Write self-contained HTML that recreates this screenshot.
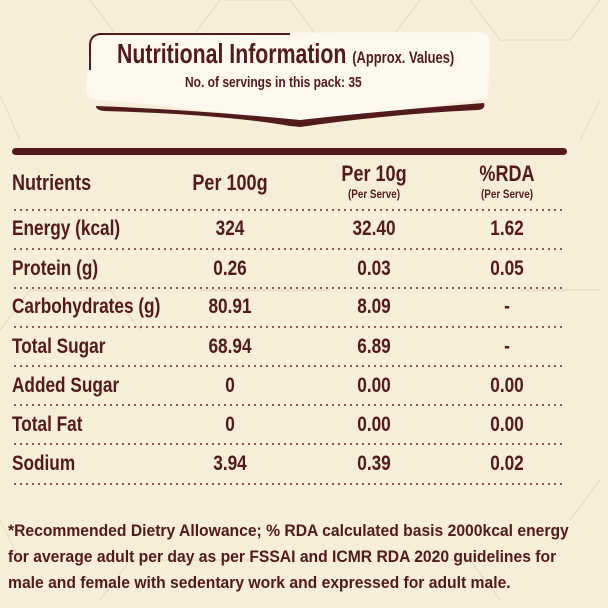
<!DOCTYPE html>
<html><head><meta charset="utf-8"><style>
body{margin:0;width:608px;height:608px;background:#f6eed8;position:relative;overflow:hidden;font-family:"Liberation Sans",sans-serif;color:#521a1a;font-weight:bold}
.t{position:absolute;white-space:nowrap;line-height:1;transform:scaleX(0.82);transform-origin:0 0}
.c{transform:translateX(-50%) scaleX(0.82);transform-origin:50% 0}
.dot{position:absolute;left:12px;width:553px;height:2px;background:radial-gradient(circle,#7a4040 0.9px,transparent 1.2px) 0 0/6px 2px repeat-x}
.r{font-size:21px}
</style></head><body>
<svg width="608" height="608" style="position:absolute;left:0;top:0" fill="none" stroke="#e8dcc0" stroke-width="1.2">
<path d="M90 0 L120 40 L190 40 L220 0 M220 0 L290 0 M290 0 L320 40 L390 40 L420 0 M470 0 L500 40 L570 40 L600 0 M0 95 L20 140 M600 100 L580 140 M0 330 L30 290 L110 290 L140 330 M520 290 L600 290 M200 290 L330 290 M0 520 L20 560 M600 480 L570 520 M100 600 L130 560 L250 560 M400 560 L470 560 L500 600"/>
</svg>
<svg width="608" height="140" style="position:absolute;left:0;top:0">
<path d="M90 40 Q92 33 100 33 L480 32 Q490 33 490 45 L488 98 Q470 102 300 122 Q150 103 96 100 Q86 98 86 88 Z" fill="#fdf9ee"/>
<path d="M90 70 L90 44 Q91 35 100 34 L290 34" stroke="#521a1a" stroke-width="2" fill="none"/>
<path d="M96 106 Q96 110 104 111 Q220 114 290 126 L300 127 Q390 114 478 110 Q486 109 484 103 Q380 111 300 120 Q200 110 96 106 Z" fill="#521a1a"/>
</svg>
<div class="t" style="left:117px;top:40px;font-size:28px;transform:scaleX(0.76)">Nutritional Information <span style="font-size:17px">(Approx. Values)</span></div>
<div class="t" style="left:185px;top:75px;font-size:15px;transform:scaleX(0.8)">No. of servings in this pack: 35</div>
<div style="position:absolute;left:12px;top:148px;width:555px;height:7px;border-radius:4px;background:#521a1a"></div>
<div class="t" style="left:12px;top:172px;font-size:22px">Nutrients</div>
<div class="t c" style="left:230px;top:172px;font-size:22px">Per 100g</div>
<div class="t c" style="left:374px;top:163px;font-size:22px">Per 10g</div>
<div class="t c" style="left:374px;top:188px;font-size:12px">(Per Serve)</div>
<div class="t c" style="left:507px;top:163px;font-size:22px">%RDA</div>
<div class="t c" style="left:507px;top:188px;font-size:12px">(Per Serve)</div>
<div class="dot" style="top:209px"></div><div class="dot" style="top:248px"></div><div class="dot" style="top:287px"></div><div class="dot" style="top:326px"></div><div class="dot" style="top:365px"></div><div class="dot" style="top:404px"></div><div class="dot" style="top:443px"></div><div class="dot" style="top:483px"></div>
<div class="t r" style="left:12px;top:218px">Energy (kcal)</div><div class="t r c" style="left:230px;top:218px">324</div><div class="t r c" style="left:374px;top:218px">32.40</div><div class="t r c" style="left:507px;top:218px">1.62</div>
<div class="t r" style="left:12px;top:258px">Protein (g)</div><div class="t r c" style="left:230px;top:258px">0.26</div><div class="t r c" style="left:374px;top:258px">0.03</div><div class="t r c" style="left:507px;top:258px">0.05</div>
<div class="t r" style="left:12px;top:296px">Carbohydrates (g)</div><div class="t r c" style="left:230px;top:296px">80.91</div><div class="t r c" style="left:374px;top:296px">8.09</div><div class="t r c" style="left:507px;top:296px">-</div>
<div class="t r" style="left:12px;top:336px">Total Sugar</div><div class="t r c" style="left:230px;top:336px">68.94</div><div class="t r c" style="left:374px;top:336px">6.89</div><div class="t r c" style="left:507px;top:336px">-</div>
<div class="t r" style="left:12px;top:375px">Added Sugar</div><div class="t r c" style="left:230px;top:375px">0</div><div class="t r c" style="left:374px;top:375px">0.00</div><div class="t r c" style="left:507px;top:375px">0.00</div>
<div class="t r" style="left:12px;top:414px">Total Fat</div><div class="t r c" style="left:230px;top:414px">0</div><div class="t r c" style="left:374px;top:414px">0.00</div><div class="t r c" style="left:507px;top:414px">0.00</div>
<div class="t r" style="left:12px;top:453px">Sodium</div><div class="t r c" style="left:230px;top:453px">3.94</div><div class="t r c" style="left:374px;top:453px">0.39</div><div class="t r c" style="left:507px;top:453px">0.02</div>
<div class="t" style="left:8px;top:518px;font-size:16.5px;line-height:26px;transform:scaleX(0.95)">*Recommended Dietry Allowance; % RDA calculated basis 2000kcal energy<br>for average adult per day as per FSSAI and ICMR RDA 2020 guidelines for<br>male and female with sedentary work and expressed for adult male.</div>
</body></html>
